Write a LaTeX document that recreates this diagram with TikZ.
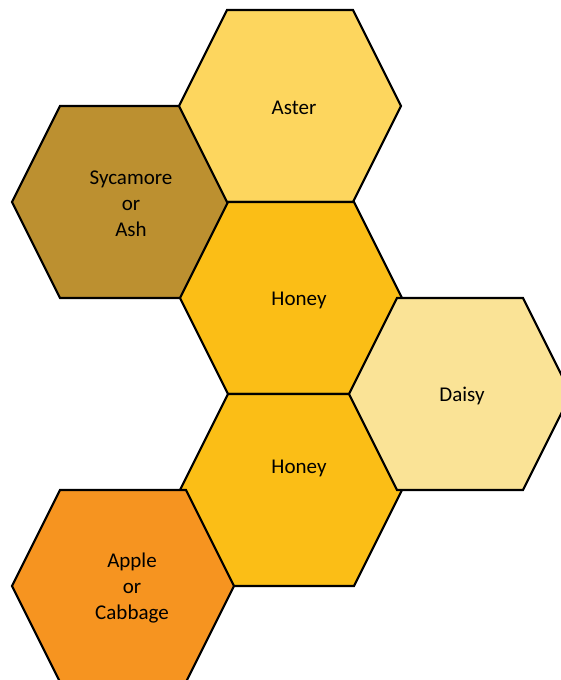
\documentclass[tikz,border=0pt]{standalone}
\usepackage{fontspec}
\setmainfont{Carlito}
\usepackage{xcolor}

\definecolor{asterc}{RGB}{253,214,94}
\definecolor{sycamorec}{RGB}{188,144,48}
\definecolor{honeyc}{RGB}{251,190,22}
\definecolor{daisyc}{RGB}{250,227,150}
\definecolor{applec}{RGB}{246,148,32}

\tikzset{
    cell/.style={draw=black, line width=2.2pt, line join=miter},
    celltext/.style={align=center, font=\fontsize{21}{26}\selectfont, inner sep=0pt}
}
% one hexagon cell: name, centre, fill
\newcommand{\hexcell}[3]{%
    \coordinate (#1) at (#2);
    \filldraw[cell, fill=#3, shift={(#2)}] (-111,0) -- (-63,-96) -- (63,-96)
        -- (111,0) -- (63,96) -- (-63,96) -- cycle;
}

\begin{document}
\begin{tikzpicture}[x=1pt, y=-1pt]
    \useasboundingbox (0,0) rectangle (561,680);
    % cells
    \hexcell{sycamore}{123,202}{sycamorec}
    \hexcell{aster}{290,106}{asterc}
    \hexcell{honeya}{291,298}{honeyc}
    \hexcell{honeyb}{291,490}{honeyc}
    \hexcell{daisy}{460,394}{daisyc}
    \hexcell{apple}{123,586}{applec}

    % labels
    \node[celltext] (astertext) at ([xshift=4pt, yshift=-2pt]aster) {Aster};
    \node[celltext] (sycamoretext) at ([xshift=8pt, yshift=-2pt]sycamore) {Sycamore\\or\\Ash};
    \node[celltext] (honeyatext) at ([xshift=8pt, yshift=-2pt]honeya) {Honey};
    \node[celltext] (daisytext) at ([xshift=2pt, yshift=-2pt]daisy) {Daisy};
    \node[celltext] (honeybtext) at ([xshift=8pt, yshift=22pt]honeyb) {Honey};
    \node[celltext] (appletext) at ([xshift=9pt, yshift=-2pt]apple) {Apple\\or\\Cabbage};
\end{tikzpicture}
\end{document}
